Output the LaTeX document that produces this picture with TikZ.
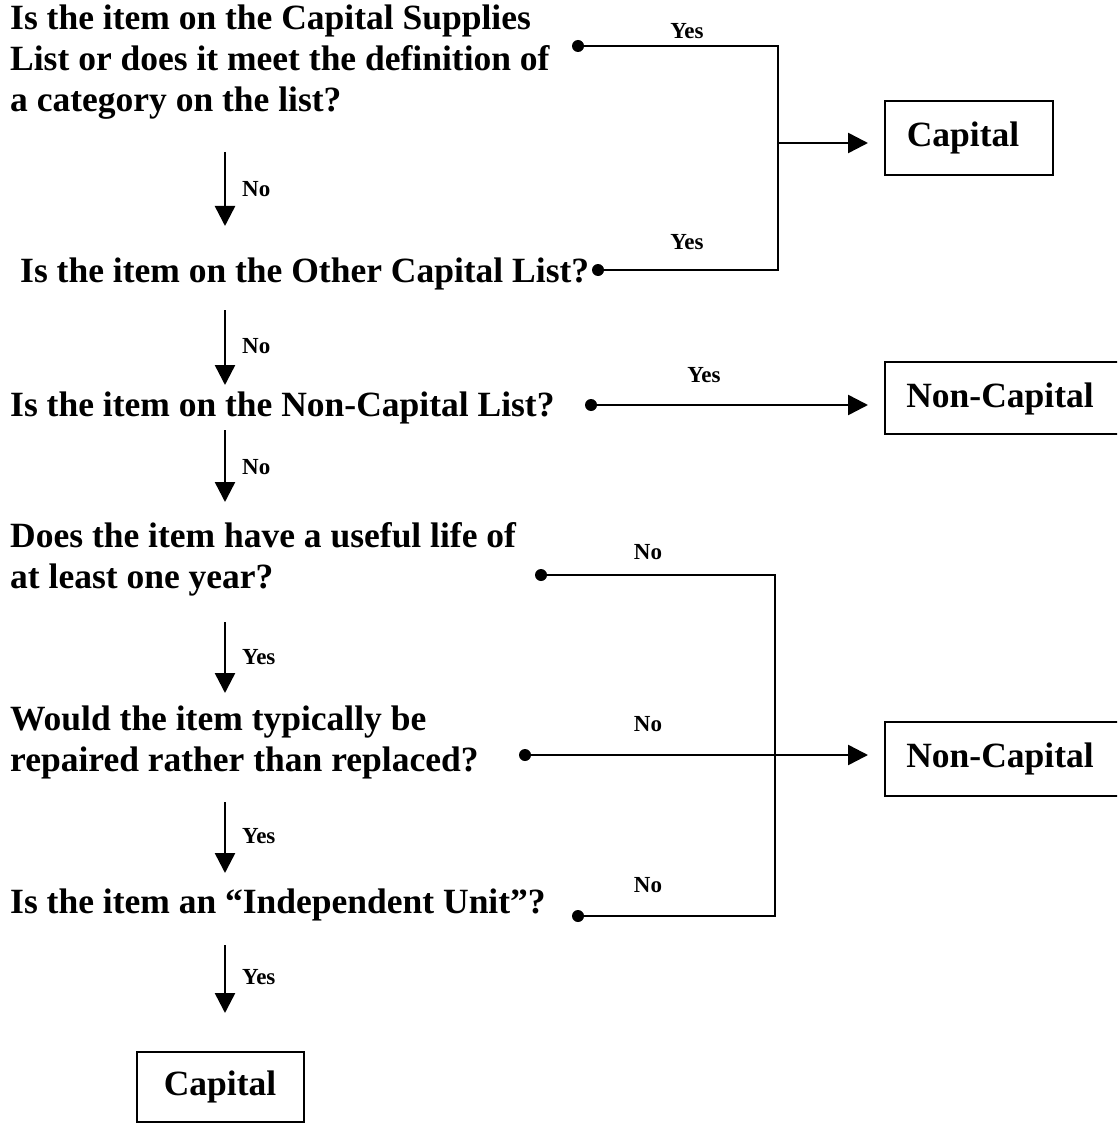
\documentclass[tikz,border=0pt]{standalone}
\usepackage{fontspec}
\setmainfont{Liberation Serif}
\usetikzlibrary{arrows.meta}
\begin{document}
\begin{tikzpicture}[x=1pt,y=-1pt,
  q/.style={anchor=base west,inner sep=0pt,font=\bfseries\fontsize{35.5}{41}\selectfont,align=left},
  lbl/.style={inner sep=0pt,font=\bfseries\fontsize{23}{26}\selectfont},
  box/.style={draw,line width=2pt,inner sep=0pt},
  boxtext/.style={inner sep=0pt,font=\bfseries\fontsize{35.5}{41}\selectfont},
  dot/.style={circle,fill,inner sep=0pt,minimum size=12pt},
  ln/.style={line width=2.5pt},
  arr/.style={line width=2.5pt,-{Triangle[length=20pt,width=20pt]}},
]
\useasboundingbox (0,0) rectangle (1117,1123);
\clip (0,0) rectangle (1117,1123);

% questions (base anchor = baseline of last line)
\node[q] (q1) at (10,112) {Is the item on the Capital Supplies\\List or does it meet the definition of\\a category on the list?};
\node[q] (q2) at (20,282) {Is the item on the Other Capital List?};
\node[q] (q3) at (10,416) {Is the item on the Non-Capital List?};
\node[q] (q4) at (10,588) {Does the item have a useful life of\\at least one year?};
\node[q] (q5) at (10,771) {Would the item typically be\\repaired rather than replaced?};
\node[q] (q6) at (10,913) {Is the item an \char"201CIndependent Unit\char"201D?};

% outcome boxes
\node[box,minimum width=168pt,minimum height=74pt] (cap1) at (969,138) {};
\node[boxtext] (cap1t) at (963,138) {Capital};
\node[box,minimum width=240pt,minimum height=72pt] (nc1) at (1005,398) {};
\node[boxtext] (nc1t) at (1000,399) {Non-Capital};
\node[box,minimum width=240pt,minimum height=74pt] (nc2) at (1005,759) {};
\node[boxtext] (nc2t) at (1000,759) {Non-Capital};
\node[box,minimum width=167pt,minimum height=70pt] (cap2) at (220.5,1087) {};
\node[boxtext] (cap2t) at (220,1087) {Capital};

% dots
\node[dot] (d1) at (578,46) {};
\node[dot] (d2) at (598,270) {};
\node[dot] (d3) at (591,405) {};
\node[dot] (d4) at (541,575) {};
\node[dot] (d5) at (525,755) {};
\node[dot] (d6) at (578,916) {};

% joints
\coordinate (j1) at (778,143);
\coordinate (j2) at (775,755);

% right-hand connectors
\draw[ln] (d1.center) -| (j1);
\draw[ln] (d2.center) -| (j1);
\draw[arr,shorten >=16pt] (j1) -- (j1 -| cap1.west);
\draw[arr,shorten >=16pt] (d3.center) -- (d3.center -| nc1.west);
\draw[ln] (d4.center) -| (j2);
\draw[ln] (d6.center) -| (j2);
\draw[arr,shorten >=16pt] (d5.center) -- (d5.center -| nc2.west);

\node[lbl] (y1) at (687,31) {Yes};
\node[lbl] (y2) at (687,242) {Yes};
\node[lbl] (y3) at (704,375) {Yes};
\node[lbl] (n4) at (648,552) {No};
\node[lbl] (n5) at (648,724) {No};
\node[lbl] (n6) at (648,885) {No};

% downward arrows
\coordinate (a1s) at (225,152); \coordinate (a1e) at (225,226);
\coordinate (a2s) at (225,310); \coordinate (a2e) at (225,385);
\coordinate (a3s) at (225,430); \coordinate (a3e) at (225,502);
\coordinate (a4s) at (225,622); \coordinate (a4e) at (225,693);
\coordinate (a5s) at (225,802); \coordinate (a5e) at (225,873);
\coordinate (a6s) at (225,945); \coordinate (a6e) at (225,1013);
\draw[arr] (a1s) -- (a1e);
\draw[arr] (a2s) -- (a2e);
\draw[arr] (a3s) -- (a3e);
\draw[arr] (a4s) -- (a4e);
\draw[arr] (a5s) -- (a5e);
\draw[arr] (a6s) -- (a6e);

\node[lbl,anchor=west] (l1) at (242,189) {No};
\node[lbl,anchor=west] (l2) at (242,346) {No};
\node[lbl,anchor=west] (l3) at (242,467) {No};
\node[lbl,anchor=west] (l4) at (242,657) {Yes};
\node[lbl,anchor=west] (l5) at (242,836) {Yes};
\node[lbl,anchor=west] (l6) at (242,977) {Yes};
\end{tikzpicture}
\end{document}
